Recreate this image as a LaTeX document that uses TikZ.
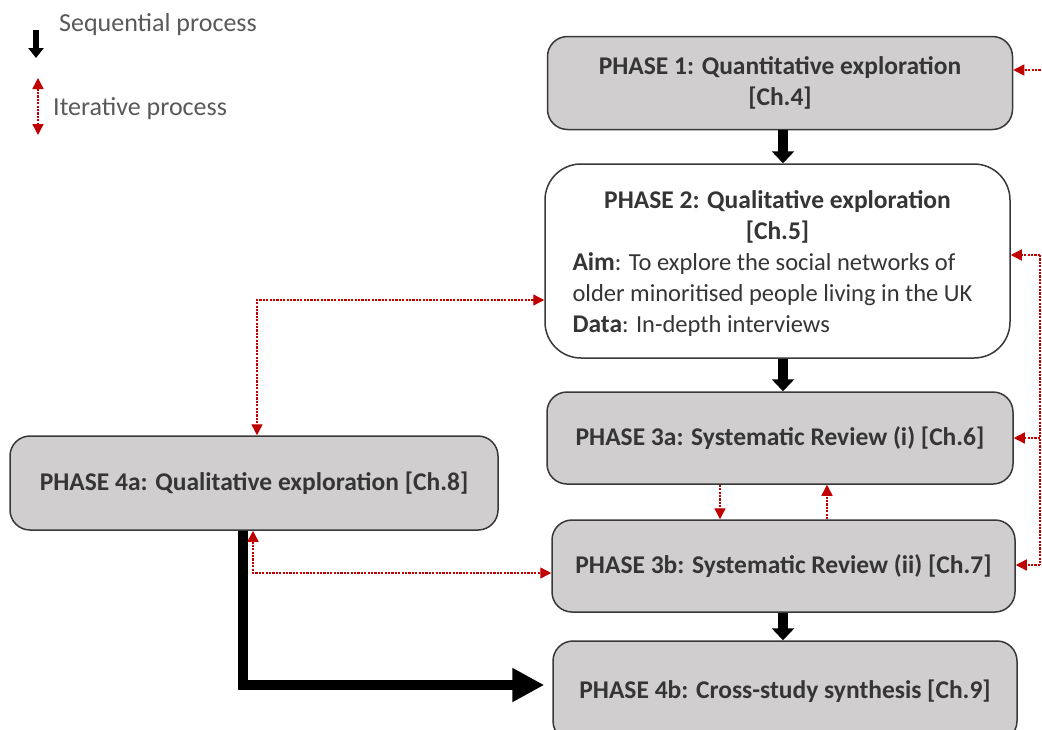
\documentclass[tikz,border=0pt]{standalone}
\usepackage{fontspec}
\setmainfont{Carlito}
\usetikzlibrary{arrows.meta,calc}
\definecolor{boxgray}{HTML}{D0CECE}
\definecolor{txtgray}{HTML}{353535}
\definecolor{leggray}{HTML}{595959}
\definecolor{itred}{HTML}{C00000}
\tikzset{
  phase/.style={draw=black!78, line width=1.5pt, rounded corners=20pt, fill=boxgray,
    text=txtgray, font=\fontsize{25.5}{31}\selectfont\bfseries, align=center, inner sep=0pt},
  seqarrow/.style={line width=10pt, -{Triangle[width=22pt,length=12pt]}},
  bigseq/.style={line width=10pt, -{Triangle[width=32pt,length=32pt]}},
  legseq/.style={line width=6pt, -{Triangle[width=15pt,length=10pt]}},
  iter/.style={draw=itred, line width=1.4pt, dash pattern=on 2.2pt off 1.2pt},
  itip/.style={-{Triangle[width=11pt,length=11pt]}, itred},
  bitip/.style={{Triangle[width=11pt,length=11pt]}-{Triangle[width=11pt,length=11pt]}, itred},
  legtext/.style={anchor=west, text=leggray, font=\fontsize{26}{31}\selectfont, inner sep=0pt}
}
\newcommand{\bigbf}[1]{{\fontsize{25.5}{31}\selectfont\bfseries #1}}
\begin{document}
\begin{tikzpicture}[x=1pt,y=-1pt]
\useasboundingbox (0,0) rectangle (1042,729);
% boxes
\node[phase, minimum width=465pt, minimum height=93pt] (p1) at (780,83)
  {PHASE 1: Quantitative exploration\\{}[Ch.4]};
\node[phase, fill=white, rounded corners=36pt, minimum width=465pt, minimum height=194pt,
  font=\fontsize{24.5}{31}\selectfont, align=left] (p2) at (777.5,261)
  {\parbox{410pt}{\vspace{6pt}\centering\bigbf{PHASE 2: Qualitative exploration}\\ \bigbf{[Ch.5]}\par
   \raggedright\bigbf{Aim}: To explore the social networks of\\
   older minoritised people living in the UK\\
   \bigbf{Data}: In-depth interviews\par}};
\node[phase, minimum width=466pt, minimum height=92pt] (p3a) at (780,438)
  {PHASE 3a: Systematic Review (i) [Ch.6]};
\node[phase, minimum width=463pt, minimum height=92pt] (p3b) at (783.5,566)
  {PHASE 3b: Systematic Review (ii) [Ch.7]};
\node[phase, minimum width=464pt, minimum height=100pt] (p4b) at (785,691)
  {PHASE 4b: Cross-study synthesis [Ch.9]};
\node[phase, minimum width=488pt, minimum height=94pt] (p4a) at (254,483)
  {PHASE 4a: Qualitative exploration [Ch.8]};
% sequential arrows
\draw[seqarrow] ([xshift=3pt]p1.south) -- ([xshift=3pt]p1.south |- p2.north);
\draw[seqarrow] ([xshift=3pt]p1.south |- p2.south) -- ([xshift=3pt]p1.south |- p3a.north);
\draw[seqarrow] ([xshift=3pt]p1.south |- p3b.south) -- ([xshift=3pt]p1.south |- p4b.north);
\draw[bigseq] ([xshift=-11pt]p4a.south) |- ([xshift=-8pt,yshift=6pt]p4b.west);
% iterative arrows
\draw[iter,bitip] ([yshift=-39pt]p2.west) -| ([xshift=3pt]p4a.north);
\draw[iter,bitip] ([xshift=-1pt]p4a.south) |- ([yshift=-7pt]p3b.west);
\draw[iter,itip] ([xshift=-60pt]p3a.south) -- ([xshift=-60pt]p3a.south |- p3b.north);
\draw[iter,itip] ([xshift=47pt]p3a.south |- p3b.north) -- ([xshift=47pt]p3a.south);
\coordinate (rtop) at (1040,255);
\coordinate (rbot) at (1040,565);
\coordinate (rp1) at (1044,70);
\draw[iter] (rtop) -- (rbot);
\draw[iter,itip] (rtop) -- (rtop -| p2.east);
\draw[iter,itip] (rtop |- p3a.east) -- (p3a.east);
\draw[iter,itip] (rbot) -- (rbot -| p3b.east);
\draw[iter,itip] (rp1) -- (rp1 -| p1.east);
% legend
\coordinate (la) at (36,30);
\coordinate (lb) at (36,58);
\draw[legseq] (la) -- (lb);
\coordinate (lc) at (38,78);
\coordinate (ld) at (38,135);
\draw[iter,bitip] (lc) -- (ld);
\node[legtext] (lseq) at (59,25) {Sequential process};
\node[legtext] (lit) at (53,109) {Iterative process};
\end{tikzpicture}
\end{document}
